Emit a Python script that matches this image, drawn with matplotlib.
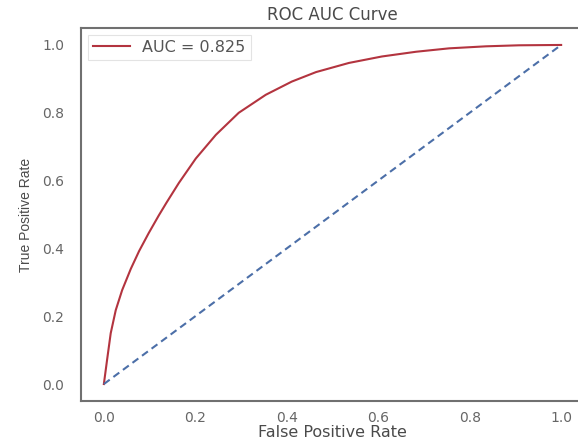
import matplotlib
matplotlib.use("Agg")
import matplotlib.pyplot as plt

# ROC curve points (false positive rate, true positive rate)
fpr = [0.0, 0.007, 0.015, 0.026, 0.04, 0.059, 0.077, 0.098, 0.12,
       0.137, 0.164, 0.201, 0.245, 0.295, 0.354, 0.411, 0.464, 0.536, 0.608,
       0.683, 0.755, 0.836, 0.908, 1.0]
tpr = [0.0, 0.071, 0.15, 0.218, 0.277, 0.34, 0.392, 0.445, 0.497,
       0.535, 0.593, 0.665, 0.735, 0.80, 0.853, 0.892, 0.92, 0.947, 0.966,
       0.98, 0.99, 0.996, 0.999, 1.0]
auc = 0.825

chance = [0.0, 1.0]
ticks = [0.0, 0.2, 0.4, 0.6, 0.8, 1.0]
tick_labels = ["0.0", "0.2", "0.4", "0.6", "0.8", "1.0"]

fig = plt.figure(figsize=(5.78, 4.43), dpi=100)
ax = fig.add_axes([81 / 578, 42 / 443, 503 / 578, 373 / 443])

ax.plot(fpr, tpr, color="#b3343f", lw=1.5, solid_joinstyle="round",
        label=f"AUC = {auc:.3f}")
ax.plot(chance, chance, color="#4c6fa8", lw=1.5, ls=(0, (3.5, 2.2)))

ax.set_xlim(-0.05, 1.05)
ax.set_ylim(-0.05, 1.05)
ax.set_xticks(ticks, tick_labels)
ax.set_yticks(ticks, tick_labels)
ax.tick_params(length=0, labelsize=10, labelcolor="#666666")
ax.tick_params(axis="y", pad=12)
ax.tick_params(axis="x", pad=7)

for s in ax.spines.values():
    s.set_color("#707070")
    s.set_linewidth(1.5)
ax.spines["right"].set_visible(False)

ax.set_title("ROC AUC Curve", fontsize=12, color="#4a4a4a", pad=6)
ax.set_xlabel("False Positive Rate", fontsize=11.5, color="#4a4a4a", labelpad=0)
ax.set_ylabel("True Positive Rate", fontsize=10, family="Liberation Sans",
              color="#4a4a4a", labelpad=7)

leg = ax.legend(loc="upper left", fontsize=11.5, frameon=True, fancybox=False,
                borderaxespad=0.45, handlelength=2.3, borderpad=0.3)
leg.get_frame().set_edgecolor("#dddddd")
leg.get_frame().set_linewidth(0.8)
for t in leg.get_texts():
    t.set_color("#555555")

fig.savefig("out.png", dpi=100)
